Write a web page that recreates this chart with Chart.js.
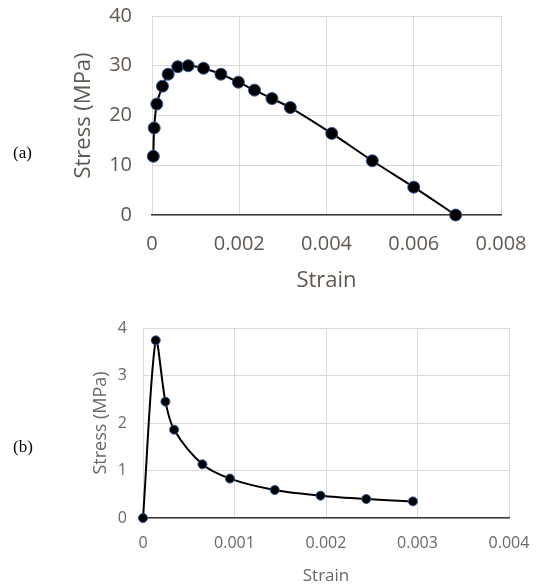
<!DOCTYPE html>
<html><head><meta charset="utf-8">
<script src="https://cdn.jsdelivr.net/npm/chart.js@4.4.1/dist/chart.umd.min.js"></script>
<style>
html,body{margin:0;padding:0;background:#fff;}
#wrap{position:relative;width:537px;height:588px;overflow:hidden;background:#fff;}
#ca{position:absolute;left:0;top:0;width:537px;height:300px;}
#cb{position:absolute;left:0;top:300px;width:537px;height:288px;}
.lab{position:absolute;font-family:"Liberation Serif","Times New Roman",serif;font-size:17px;color:#000;line-height:20px;}
</style></head><body>
<div id="wrap">
<canvas id="ca" width="537" height="300"></canvas>
<canvas id="cb" width="537" height="288"></canvas>
<div class="lab" style="left:13px;top:143px">(a)</div>
<div class="lab" style="left:13px;top:437px">(b)</div>
</div>
<script>
// ---- Chart (a) data ----
const strainA = [0.00003,0.00005,0.00011,0.00024,0.00037,0.00059,0.00083,0.00118,0.00158,0.00198,0.00235,0.00275,0.00317,0.00412,0.00505,0.00600,0.00696];
const stressA = [11.8,17.5,22.3,25.9,28.3,29.8,30.0,29.5,28.3,26.7,25.1,23.4,21.6,16.4,10.9,5.6,0.0];
const xTicksA = [0,0.002,0.004,0.006,0.008];
const xLabelsA = ['0','0.002','0.004','0.006','0.008'];
const yTicksA = [0,10,20,30,40];
const yLabelsA = ['0','10','20','30','40'];

// ---- Chart (b) data ----
const strainB = [0,0.000139,0.000245,0.00034,0.00065,0.00095,0.00144,0.00194,0.00244,0.00295];
const stressB = [0,3.74,2.45,1.86,1.13,0.83,0.59,0.47,0.40,0.35];
const xTicksB = [0,0.001,0.002,0.003,0.004];
const xLabelsB = ['0','0.001','0.002','0.003','0.004'];
const yTicksB = [0,1,2,3,4];
const yLabelsB = ['0','1','2','3','4'];

const xTitle = 'Strain';
const yTitle = 'Stress (MPa)';

function makeChart(id, xs, ys, c) {
  const data = xs.map((x, i) => ({x: x, y: ys[i]}));
  return new Chart(document.getElementById(id), {
    type: 'scatter',
    data: {datasets: [{
      data: data, showLine: true, borderColor: '#000', borderWidth: c.lw, tension: c.tension,
      pointRadius: c.r, pointHoverRadius: c.r, pointBackgroundColor: '#000',
      pointBorderColor: '#2f5597', pointBorderWidth: 1, clip: false
    }]},
    options: {
      responsive: false, animation: false, events: [],
      layout: {padding: c.pad},
      plugins: {legend: {display: false}, tooltip: {enabled: false}},
      scales: {
        x: {
          type: 'linear', min: c.xTicks[0], max: c.xTicks[c.xTicks.length - 1],
          afterBuildTicks: s => { s.ticks = c.xTicks.map(v => ({value: v})); },
          afterFit: s => { s.height = c.xH; s.paddingLeft = 0; s.paddingRight = 0; },
          grid: {color: '#d9d9d9', lineWidth: 1, drawTicks: false},
          border: {display: true, color: '#3a3a3a', width: 1.5},
          ticks: {padding: c.xTickPad, color: c.color, autoSkip: false, maxRotation: 0,
            font: {family: 'Open Sans', size: c.tickSize},
            callback: (v, i) => c.xLabels[i]},
          title: {display: true, text: xTitle, color: c.color,
            font: {family: 'Open Sans', size: c.xTitleSize}, padding: {top: 0, bottom: c.xTitlePad}}
        },
        y: {
          type: 'linear', min: c.yTicks[0], max: c.yTicks[c.yTicks.length - 1],
          afterBuildTicks: s => { s.ticks = c.yTicks.map(v => ({value: v})); },
          afterFit: s => { s.width = c.yW; s.paddingTop = 0; s.paddingBottom = 0; },
          grid: {color: '#d9d9d9', lineWidth: 1, drawTicks: false},
          border: {display: false},
          ticks: {padding: c.yTickPad, color: c.color, autoSkip: false,
            font: {family: 'Open Sans', size: c.tickSize},
            callback: (v, i) => c.yLabels[i]},
          title: {display: true, text: yTitle, color: c.color,
            font: {family: 'Open Sans', size: c.yTitleSize}, padding: {top: c.yTitlePad, bottom: 0}}
        }
      }
    }
  });
}

function draw() {
  makeChart('ca', strainA, stressA, {
    lw: 2, tension: 0.3, r: 6,
    pad: {left: 60, right: 36, top: 16, bottom: 0},
    xTicks: xTicksA, xLabels: xLabelsA, yTicks: yTicksA, yLabels: yLabelsA,
    xH: 85, yW: 92, xTickPad: 17, yTickPad: 20, tickSize: 20,
    xTitleSize: 22, yTitleSize: 22, xTitlePad: 6, yTitlePad: 11, color: '#5f5850'
  });
  makeChart('cb', strainB, stressB, {
    lw: 2, tension: 0.3, r: 4.5,
    pad: {left: 80, right: 28, top: 28, bottom: 0},
    xTicks: xTicksB, xLabels: xLabelsB, yTicks: yTicksB, yLabels: yLabelsB,
    xH: 70, yW: 63, xTickPad: 16, yTickPad: 16, tickSize: 16,
    xTitleSize: 17, yTitleSize: 18, xTitlePad: 2, yTitlePad: 10, color: '#686868'
  });
}
if (document.fonts && document.fonts.load) {
  Promise.all([document.fonts.load('20px "Open Sans"')]).then(draw, draw);
} else { draw(); }
</script>
</body></html>
